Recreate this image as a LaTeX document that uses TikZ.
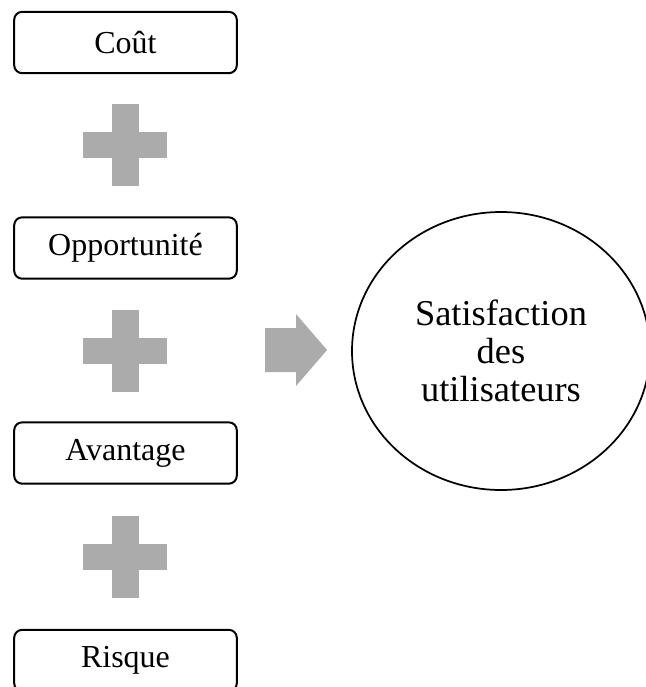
\documentclass[tikz,border=0pt]{standalone}
\usepackage{fontspec}
\setmainfont{Liberation Serif}
\usetikzlibrary{shapes.geometric}
\definecolor{plusgray}{HTML}{ABABAB}
\begin{document}
\begin{tikzpicture}[x=0.75pt,y=-0.75pt,
  item/.style={draw, line width=1.5pt, rounded corners=6pt,
    minimum width=167pt, minimum height=46pt, inner sep=0pt,
    font=\fontsize{24}{28}\selectfont},
  goal/.style={draw, ellipse, line width=1.3pt, inner sep=0pt,
    minimum width=223.5pt, minimum height=208.5pt, align=center,
    font=\fontsize{27.3}{28.5}\selectfont},
  plussign/.pic={
    \fill[plusgray] (-13.5,-41) rectangle (13.5,41);
    \fill[plusgray] (-42,-13) rectangle (42,13);
  }
]
\useasboundingbox (0,0) rectangle (646,687);

% factor boxes
\node[item] (cout)  at (125.5,42.5)  {Coût};
\node[item] (opp)   at (125.5,248)   {Opportunité};
\node[item] (avant) at (125.5,453)   {Avantage};
\node[item] (risk)  at (125.5,660.5) {Risque};

% plus signs between the boxes
\pic at (125,145) {plussign};
\pic at (125,351) {plussign};
\pic at (125,556.5) {plussign};

% result
\node[goal] (sat) at (501,351) {Satisfaction\\des\\utilisateurs};

% block arrow towards the result
\fill[plusgray] (265,328) -- (296,328) -- (296,314) -- (327,350)
  -- (296,386) -- (296,372) -- (265,372) -- cycle;
\end{tikzpicture}
\end{document}
